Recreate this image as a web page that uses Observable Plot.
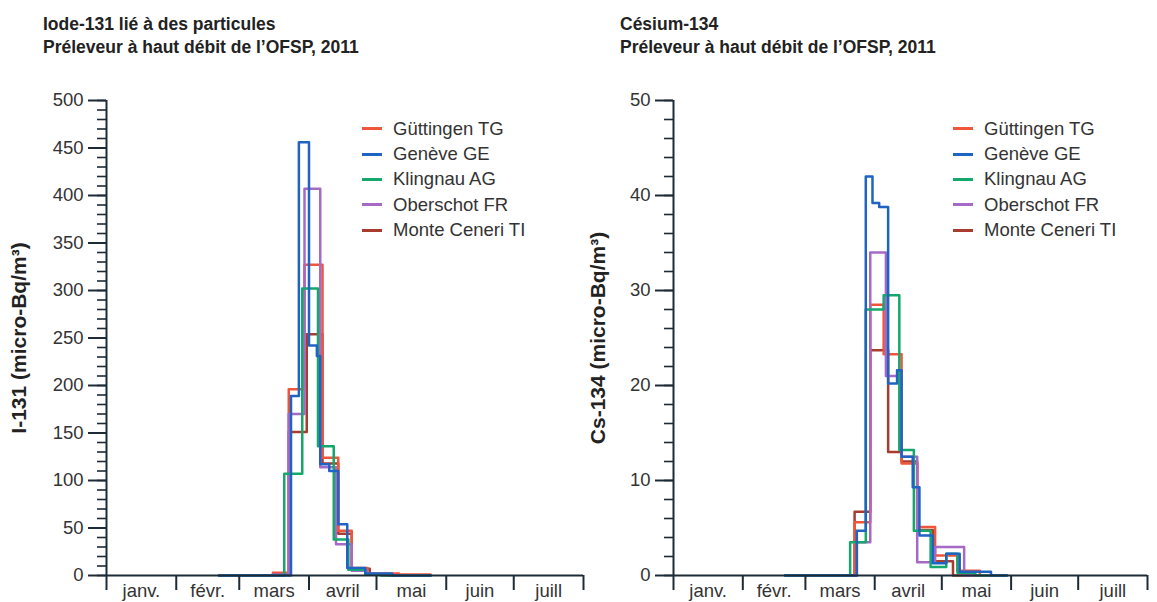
<!DOCTYPE html>
<html>
<head>
<meta charset="utf-8">
<script src="https://cdn.jsdelivr.net/npm/d3@7"></script>
<script src="https://cdn.jsdelivr.net/npm/@observablehq/plot@0.6"></script>
<style>
  body { margin: 0; background: #fff; }
  #wrap { position: relative; width: 1157px; height: 602px; overflow: hidden; font-family: "Liberation Sans", Arial, sans-serif; }
  .title { position: absolute; top: 13px; font-weight: bold; font-size: 17.5px; line-height: 22.7px; color: #222; white-space: nowrap; }
  .chart { position: absolute; top: 0; }
  .legend { position: absolute; top: 116px; font-size: 18.5px; color: #333; }
  .legend .row { display: flex; align-items: center; height: 25.4px; white-space: nowrap; }
  .legend .sw { display: inline-block; width: 20px; height: 3px; margin-right: 11px; }
</style>
</head>
<body>
<div id="wrap"></div>
<script>
// ---------- data ----------
const stations = ["Güttingen TG", "Genève GE", "Klingnau AG", "Oberschot FR", "Monte Ceneri TI"];
const stationColors = ["#ef553b", "#1f63c3", "#14a86c", "#a56ac8", "#a83c2e"];
const drawOrder = ["Monte Ceneri TI", "Güttingen TG", "Oberschot FR", "Klingnau AG", "Genève GE"];

const monthLabels = ["janv.", "févr.", "mars", "avril", "mai", "juin", "juill"];
const monthStarts = ["2011-01-01", "2011-02-01", "2011-03-01", "2011-04-01", "2011-05-01", "2011-06-01", "2011-07-01", "2011-08-01"];

const i131MajorTicks = [0, 50, 100, 150, 200, 250, 300, 350, 400, 450, 500];
const cs134MajorTicks = [0, 10, 20, 30, 40, 50];

// Iode-131 (micro-Bq/m3): [start of sampling period, value]
const i131Guttingen = [["2011-02-20", 0], ["2011-03-16", 3], ["2011-03-23", 196], ["2011-03-30", 327], ["2011-04-07", 124], ["2011-04-14", 47], ["2011-04-20", 8], ["2011-04-27", 2], ["2011-05-11", 1], ["2011-05-25", 0]];
const i131Geneve = [["2011-02-20", 0], ["2011-03-24", 189], ["2011-03-27T12:00Z", 456], ["2011-04-01", 242], ["2011-04-04T12:00Z", 231], ["2011-04-06", 117], ["2011-04-10", 110], ["2011-04-14", 54], ["2011-04-18", 8], ["2011-04-26", 2], ["2011-05-08", 0], ["2011-05-25", 0]];
const i131Klingnau = [["2011-02-20", 0], ["2011-03-21", 107], ["2011-03-29", 302], ["2011-04-05", 136], ["2011-04-12", 38], ["2011-04-18T12:00Z", 6], ["2011-04-26", 1], ["2011-05-03", 0], ["2011-05-25", 0]];
const i131Oberschot = [["2011-02-20", 0], ["2011-03-16", 1], ["2011-03-23", 170], ["2011-03-30", 407], ["2011-04-06", 114], ["2011-04-13", 33], ["2011-04-20", 5], ["2011-04-27", 1], ["2011-05-06", 0], ["2011-05-25", 0]];
const i131MonteCeneri = [["2011-02-20", 0], ["2011-03-16", 2], ["2011-03-23", 151], ["2011-03-31", 254], ["2011-04-07", 118], ["2011-04-14", 44], ["2011-04-20", 7], ["2011-04-28", 1], ["2011-05-08", 0], ["2011-05-25", 0]];

// Césium-134 (micro-Bq/m3)
const cs134Guttingen = [["2011-02-20", 0], ["2011-03-23", 5.6], ["2011-03-30", 28.5], ["2011-04-05", 23.3], ["2011-04-13", 11.8], ["2011-04-20", 5.1], ["2011-04-28", 2.1], ["2011-05-08", 0.5], ["2011-05-18", 0], ["2011-05-30", 0]];
const cs134Geneve = [["2011-02-20", 0], ["2011-03-24", 4.7], ["2011-03-28", 42], ["2011-03-31", 39.2], ["2011-04-03", 38.8], ["2011-04-07", 20.2], ["2011-04-11", 21.6], ["2011-04-13", 12.5], ["2011-04-18", 9.3], ["2011-04-21", 4.2], ["2011-04-27", 1.3], ["2011-05-03", 2.3], ["2011-05-09", 0.4], ["2011-05-23", 0], ["2011-05-30", 0]];
const cs134Klingnau = [["2011-02-20", 0], ["2011-03-21", 3.5], ["2011-03-28", 28.0], ["2011-04-05", 29.5], ["2011-04-12", 13.2], ["2011-04-18T12:00Z", 4.7], ["2011-04-26", 0.9], ["2011-05-03", 2.3], ["2011-05-08", 0.3], ["2011-05-16", 0], ["2011-05-30", 0]];
const cs134Oberschot = [["2011-02-20", 0], ["2011-03-24", 3.5], ["2011-03-30", 34.0], ["2011-04-06", 21.0], ["2011-04-13", 12.5], ["2011-04-20", 1.4], ["2011-04-28", 3.0], ["2011-05-11", 0], ["2011-05-30", 0]];
const cs134MonteCeneri = [["2011-02-20", 0], ["2011-03-23", 6.7], ["2011-03-30", 23.7], ["2011-04-07", 13.0], ["2011-04-13", 12.0], ["2011-04-20", 4.8], ["2011-04-27", 1.5], ["2011-05-06", 0], ["2011-05-30", 0]];

// ---------- build ----------
const FONT = '"Liberation Sans", Arial, sans-serif';
const AXIS = "#1c2b36";
const TEXT = "#333";

function table(byStation) {
  return drawOrder.flatMap(name => byStation[name].map(([d, v]) => ({station: name, date: new Date(d), value: v})));
}

const i131Data = table({
  "Güttingen TG": i131Guttingen, "Genève GE": i131Geneve, "Klingnau AG": i131Klingnau,
  "Oberschot FR": i131Oberschot, "Monte Ceneri TI": i131MonteCeneri
});
const cs134Data = table({
  "Güttingen TG": cs134Guttingen, "Genève GE": cs134Geneve, "Klingnau AG": cs134Klingnau,
  "Oberschot FR": cs134Oberschot, "Monte Ceneri TI": cs134MonteCeneri
});

const monthDates = monthStarts.map(d => new Date(d));
const midMonths = monthDates.slice(0, -1).map((d, i) => new Date((+d + +monthDates[i + 1]) / 2));

function chart({data, yMax, major, minorStep, yLabel, labelDx, marginRight}) {
  return Plot.plot({
    width: 590, height: 602,
    marginLeft: 106, marginRight, marginTop: 100, marginBottom: 27,
    style: {fontFamily: FONT, fontSize: "18.5px", background: "transparent", color: AXIS, overflow: "visible"},
    x: {type: "utc", domain: [monthDates[0], monthDates[monthDates.length - 1]]},
    y: {domain: [0, yMax]},
    color: {domain: stations, range: stationColors},
    marks: [
      Plot.line(data, {x: "date", y: "value", z: "station", stroke: "station", curve: "step-after", strokeWidth: 2.5}),
      Plot.ruleY([0], {stroke: AXIS, strokeWidth: 2}),
      Plot.ruleX([monthDates[0]], {stroke: AXIS, strokeWidth: 2}),
      Plot.axisX({ticks: monthDates, tickSize: 15, tickFormat: () => "", label: null, stroke: AXIS, strokeWidth: 2}),
      Plot.axisX({ticks: midMonths, tickSize: 0, tickPadding: 8, tickFormat: d => monthLabels[d.getUTCMonth()], label: null, fill: TEXT}),
      Plot.axisY({ticks: d3.range(0, yMax + 0.001, minorStep), tickSize: 9, tickFormat: () => "", label: null, stroke: AXIS, strokeWidth: 1.6}),
      Plot.axisY({ticks: major, tickSize: 18, tickPadding: 5, label: null, stroke: AXIS, strokeWidth: 2, fill: TEXT}),
      Plot.text([yLabel], {text: d => d, frameAnchor: "left", textAnchor: "middle", lineAnchor: "middle", rotate: -90, dx: labelDx, fontWeight: "bold", fontSize: 21, fill: "#222"})
    ]
  });
}

const wrap = document.getElementById("wrap");

function addChart(svg, left) {
  svg.classList.add("chart");
  svg.style.left = left + "px";
  svg.style.position = "absolute";
  svg.style.top = "0px";
  wrap.appendChild(svg);
}

addChart(chart({data: i131Data, yMax: 500, major: i131MajorTicks, minorStep: 10, yLabel: "I-131 (micro-Bq/m³)", labelDx: -87, marginRight: 7}), 0);
addChart(chart({data: cs134Data, yMax: 50, major: cs134MajorTicks, minorStep: 2, yLabel: "Cs-134 (micro-Bq/m³)", labelDx: -75, marginRight: 10}), 567);

function addTitle(lines, left) {
  const t = document.createElement("div");
  t.className = "title";
  t.style.left = left + "px";
  t.innerHTML = lines.map(s => `<div>${s}</div>`).join("");
  wrap.appendChild(t);
}
addTitle(["Iode-131 lié à des particules", "Préleveur à haut débit de l’OFSP, 2011"], 43);
addTitle(["Césium-134", "Préleveur à haut débit de l’OFSP, 2011"], 620);

function addLegend(left) {
  const lg = document.createElement("div");
  lg.className = "legend";
  lg.style.left = left + "px";
  stations.forEach((s, i) => {
    const row = document.createElement("div");
    row.className = "row";
    const sw = document.createElement("span");
    sw.className = "sw";
    sw.style.background = stationColors[i];
    row.appendChild(sw);
    row.appendChild(document.createTextNode(s));
    lg.appendChild(row);
  });
  wrap.appendChild(lg);
}
addLegend(362);
addLegend(953);
</script>
</body>
</html>
